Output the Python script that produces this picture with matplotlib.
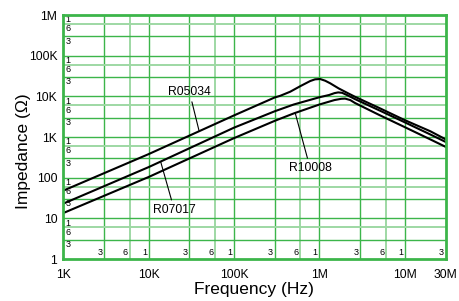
import numpy as np
import matplotlib.pyplot as plt
import matplotlib.ticker as mticker

plt.rcParams['font.family'] = ['Liberation Sans', 'DejaVu Sans']

# ---- Data ----
f_r05034 = [1e3, 1e4, 1e5, 3e5, 3.47e5, 4.55e5, 6e5, 7.8e5, 8.9e5, 1.02e6, 1.17e6, 1.34e6,
            1.68e6, 2.1e6, 2.6e6, 5e6, 1e7, 2e7, 3e7]
z_r05034 = [48, 380, 3400, 9400, 10300, 13000, 17900, 23800, 26200, 26700, 24200, 20900,
            15700, 12300, 9800, 5200, 2600, 1380, 880]

f_r07017 = [1e3, 1e4, 1e5, 3e5, 5e5, 1e6, 1.3e6, 1.5e6, 1.66e6, 1.85e6, 2.1e6, 2.6e6,
            5e6, 1e7, 2e7, 3e7]
z_r07017 = [23, 182, 1700, 4300, 6300, 9500, 10800, 12000, 12500, 12200, 10800, 8600,
            4550, 2300, 1150, 760]

f_r10008 = [1e3, 1e4, 1e5, 3e5, 5e5, 1e6, 1.5e6, 1.8e6, 2e6, 2.3e6, 2.6e6,
            5e6, 1e7, 2e7, 3e7]
z_r10008 = [13.5, 104, 940, 2500, 3800, 6300, 8100, 8700, 8800, 8100, 6900,
            3500, 1750, 870, 575]

x_ticks = [1e3, 1e4, 1e5, 1e6, 1e7, 3e7]
x_tick_labels = ['1K', '10K', '100K', '1M', '10M', '30M']
y_ticks = [1, 10, 100, 1e3, 1e4, 1e5, 1e6]
y_tick_labels = ['1', '10', '100', '1K', '10K', '100K', '1M']

GREEN = '#3cb54a'
LIGHT = '#9ed8a4'

fig = plt.figure(figsize=(4.59, 3.01), dpi=100)
ax = fig.add_axes([0.1379, 0.1395, 0.8327, 0.8106])
ax.set_xscale('log')
ax.set_yscale('log')
ax.set_xlim(1e3, 3e7)
ax.set_ylim(1, 1e6)

# ---- grid: decades + 3 darker, 6 lighter ----
for dec in range(3, 8):
    for m, col, lw in [(1, GREEN, 1.0), (3, GREEN, 1.0), (6, LIGHT, 1.4)]:
        v = m * 10 ** dec
        if 1e3 < v < 3e7:
            ax.axvline(v, color=col, lw=lw, zorder=1)
for dec in range(0, 6):
    for m, col, lw in [(1, GREEN, 1.0), (3, GREEN, 1.0), (6, LIGHT, 1.4)]:
        v = m * 10 ** dec
        if 1 < v < 1e6:
            ax.axhline(v, color=col, lw=lw, zorder=1)

# small in-plot scale labels
for dec in range(3, 8):
    for m, s in [(1, '1'), (3, '3'), (6, '6')]:
        v = m * 10 ** dec
        if 1e3 < v <= 3e7:
            ax.annotate(s, xy=(v, 0), xycoords=('data', 'axes fraction'),
                        xytext=(-1.2, 1.2), textcoords='offset points',
                        ha='right', va='bottom', fontsize=6.5, zorder=2)
for dec in range(0, 7):
    for m, s in [(1, '1'), (3, '3'), (6, '6')]:
        v = m * 10 ** dec
        if 1 < v <= 1e6 and not (m == 1 and dec == 0):
            ax.annotate(s, xy=(0, v), xycoords=('axes fraction', 'data'),
                        xytext=(1.8, -0.3), textcoords='offset points',
                        ha='left', va='top', fontsize=6.5, zorder=2)

# ---- curves ----
for f, z in [(f_r05034, z_r05034), (f_r07017, z_r07017), (f_r10008, z_r10008)]:
    ax.plot(f, z, color='black', lw=1.5, zorder=4, solid_joinstyle='round')

leader = dict(arrowstyle='-', color='black', lw=0.8, shrinkA=1, shrinkB=0)
ax.annotate('R05034', xy=(3.9e4, 1400), xytext=(3.0e4, 1.3e4),
            ha='center', va='center', fontsize=8.7, arrowprops=leader, zorder=5)
ax.annotate('R10008', xy=(5.2e5, 3950), xytext=(7.8e5, 170),
            ha='center', va='center', fontsize=8.7, arrowprops=leader, zorder=5)
ax.annotate('R07017', xy=(1.38e4, 250), xytext=(2.0e4, 16),
            ha='center', va='center', fontsize=8.7, arrowprops=leader, zorder=5)

# ---- axes ----
ax.xaxis.set_major_locator(mticker.FixedLocator(x_ticks))
ax.xaxis.set_major_formatter(mticker.FixedFormatter(x_tick_labels))
ax.xaxis.set_minor_locator(mticker.NullLocator())
ax.yaxis.set_major_locator(mticker.FixedLocator(y_ticks))
ax.yaxis.set_major_formatter(mticker.FixedFormatter(y_tick_labels))
ax.yaxis.set_minor_locator(mticker.NullLocator())
ax.tick_params(length=0, labelsize=8.7)
ax.tick_params(axis='x', pad=7)
ax.tick_params(axis='y', pad=4.3)
for sp in ax.spines.values():
    sp.set_color(GREEN)
    sp.set_linewidth(2)
    sp.set_zorder(6)

ax.set_xlabel('Frequency (Hz)', fontsize=12.5)
ax.xaxis.set_label_coords(0.5, -0.094)
ax.set_ylabel('Impedance (Ω)', fontsize=12.5, va='center')
ax.yaxis.set_label_coords(-0.103, 0.44)

fig.savefig('out.png', dpi=100)
